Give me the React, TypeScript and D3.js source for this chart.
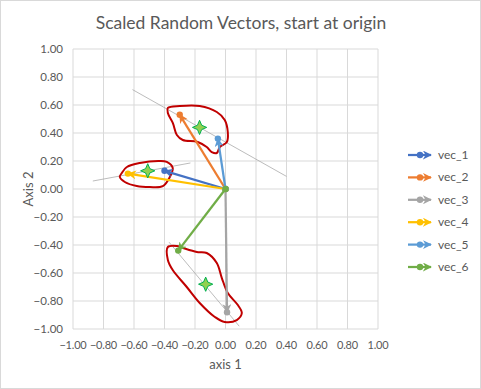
import React from 'react';
import * as d3 from 'd3';

// chart values
const seriesNames = ['vec_1', 'vec_2', 'vec_3', 'vec_4', 'vec_5', 'vec_6'];
const seriesColors = ['#4472C4', '#ED7D31', '#A5A5A5', '#FFC000', '#5B9BD5', '#70AD47'];
const vecEndX = [-0.4, -0.3, 0.01, -0.64, -0.05, -0.31];
const vecEndY = [0.13, 0.53, -0.88, 0.11, 0.36, -0.44];

const starX = [-0.17, -0.51, -0.13];
const starY = [0.44, 0.13, -0.68];

const fitLines: [number, number][][] = [
  [[-0.61, 0.71], [0.4, 0.09]],
  [[-0.87, 0.057], [-0.23, 0.186]],
  [[-0.37, -0.38], [0.09, -0.98]],
];

const outlines: [number, number][][] = [
  [
    [-0.378, 0.579], [-0.3, 0.593], [-0.169, 0.593], [-0.057, 0.55], [-0.005, 0.493],
    [0.015, 0.407], [0.009, 0.336], [-0.037, 0.3], [-0.057, 0.257], [-0.09, 0.264],
    [-0.123, 0.3], [-0.182, 0.336], [-0.28, 0.35], [-0.319, 0.386], [-0.345, 0.471],
    [-0.378, 0.543],
  ],
  [
    [-0.68, 0.114], [-0.647, 0.157], [-0.562, 0.186], [-0.431, 0.2], [-0.385, 0.193],
    [-0.346, 0.15], [-0.365, 0.086], [-0.411, 0.021], [-0.496, 0.014], [-0.582, 0.021],
    [-0.66, 0.05], [-0.693, 0.086],
  ],
  [
    [-0.378, -0.414], [-0.319, -0.407], [-0.28, -0.421], [-0.188, -0.45], [-0.123, -0.457],
    [-0.057, -0.529], [-0.024, -0.636], [0.015, -0.743], [0.081, -0.829], [0.107, -0.886],
    [0.074, -0.936], [-0.005, -0.95], [-0.07, -0.914], [-0.169, -0.814], [-0.254, -0.7],
    [-0.346, -0.579], [-0.378, -0.507],
  ],
];

const ticks = [-1, -0.8, -0.6, -0.4, -0.2, 0, 0.2, 0.4, 0.6, 0.8, 1];

const W = 481;
const H = 389;
const font = 'Lato, "Open Sans", sans-serif';
const textColor = '#595959';
const gridColor = '#d9d9d9';

// four-pointed star for the cluster centres
const star4 = {
  draw(ctx: any, size: number) {
    const r = Math.sqrt(size) * 0.75;
    const k = r * 0.3;
    ctx.moveTo(0, -r);
    ctx.lineTo(k, -k);
    ctx.lineTo(r, 0);
    ctx.lineTo(k, k);
    ctx.lineTo(0, r);
    ctx.lineTo(-k, k);
    ctx.lineTo(-r, 0);
    ctx.lineTo(-k, -k);
    ctx.closePath();
  },
};

export default function App() {
  const x = d3.scaleLinear().domain([-1, 1]).range([73, 378]);
  const y = d3.scaleLinear().domain([-1, 1]).range([329, 49]);

  const line = d3.line<[number, number]>().x((d) => x(d[0])).y((d) => y(d[1]));
  const blob = d3
    .line<[number, number]>()
    .x((d) => x(d[0]))
    .y((d) => y(d[1]))
    .curve(d3.curveCatmullRomClosed.alpha(0.5));
  const starPath = d3.symbol().type(star4 as any).size(90)() as string;
  const fmt = d3.format('.2f');

  const legendY = d3.scalePoint<string>().domain(seriesNames).range([155, 267]);

  return (
    <svg width={W} height={H} style={{ position: 'absolute', left: 0, top: 0 }}>
      <defs>
        {seriesColors.map((c, i) => (
          <marker
            key={i}
            id={`arr${i}`}
            viewBox="0 0 10 10"
            refX={9}
            refY={5}
            markerWidth={4}
            markerHeight={4}
            orient="auto"
            markerUnits="strokeWidth"
          >
            <path d="M0,0 L10,5 L0,10 L3,5 Z" fill={c} />
          </marker>
        ))}
      </defs>
      <rect x={0.5} y={0.5} width={W - 1} height={H - 1} fill="#fff" stroke={gridColor} />

      {/* grid */}
      {ticks.map((t) => (
        <g key={t}>
          <line x1={x(t)} x2={x(t)} y1={y(-1)} y2={y(1)} stroke={gridColor} strokeWidth={1} />
          <line x1={x(-1)} x2={x(1)} y1={y(t)} y2={y(t)} stroke={gridColor} strokeWidth={1} />
        </g>
      ))}

      {/* tick labels */}
      {ticks.map((t) => (
        <text
          key={`x${t}`}
          x={x(t)}
          y={y(-1) + 20}
          textAnchor="middle"
          fontFamily={font}
          fontSize={11}
          letterSpacing={-0.2}
          fill={textColor}
        >
          {fmt(t)}
        </text>
      ))}
      {ticks.map((t) => (
        <text
          key={`y${t}`}
          x={x(-1) - 10}
          y={y(t) + 4}
          textAnchor="end"
          fontFamily={font}
          fontSize={11.5}
          fill={textColor}
        >
          {fmt(t)}
        </text>
      ))}

      {/* title and axis titles */}
      <text x={241} y={29} textAnchor="middle" fontFamily={font} fontSize={17.5} fill={textColor}>
        Scaled Random Vectors, start at origin
      </text>
      <text x={x(0)} y={369} textAnchor="middle" fontFamily={font} fontSize={13} fill={textColor}>
        axis 1
      </text>
      <text
        transform={`translate(33,${y(0)}) rotate(-90)`}
        textAnchor="middle"
        fontFamily={font}
        fontSize={13}
        fill={textColor}
      >
        Axis 2
      </text>

      {/* thin fit lines */}
      {fitLines.map((l, i) => (
        <path key={i} d={line(l) as string} fill="none" stroke="#a6a6a6" strokeWidth={0.75} />
      ))}

      {/* hand drawn outlines */}
      {outlines.map((o, i) => (
        <path key={i} d={blob(o) as string} fill="none" stroke="#C00000" strokeWidth={2} />
      ))}

      {/* vectors */}
      {seriesNames.map((n, i) => {
        const pts: [number, number][] = [
          [0, 0],
          [vecEndX[i], vecEndY[i]],
        ];
        return (
          <g key={n}>
            <path
              d={line(pts) as string}
              fill="none"
              stroke={seriesColors[i]}
              strokeWidth={2.25}
              markerEnd={`url(#arr${i})`}
            />
            {pts.map((p, j) => (
              <circle key={j} cx={x(p[0])} cy={y(p[1])} r={3.2} fill={seriesColors[i]} />
            ))}
          </g>
        );
      })}

      {/* cluster centres */}
      {starX.map((sx, i) => (
        <path
          key={i}
          d={starPath}
          transform={`translate(${x(sx)},${y(starY[i])})`}
          fill="#92D050"
          stroke="#00B050"
          strokeWidth={1}
        />
      ))}

      {/* legend */}
      {seriesNames.map((n, i) => {
        const ly = legendY(n) as number;
        return (
          <g key={n}>
            <line
              x1={408}
              x2={431}
              y1={ly}
              y2={ly}
              stroke={seriesColors[i]}
              strokeWidth={2.25}
              markerEnd={`url(#arr${i})`}
            />
            <circle cx={420} cy={ly} r={3.2} fill={seriesColors[i]} />
            <text x={438} y={ly + 4} fontFamily={font} fontSize={12} fill={textColor}>
              {n}
            </text>
          </g>
        );
      })}
    </svg>
  );
}
